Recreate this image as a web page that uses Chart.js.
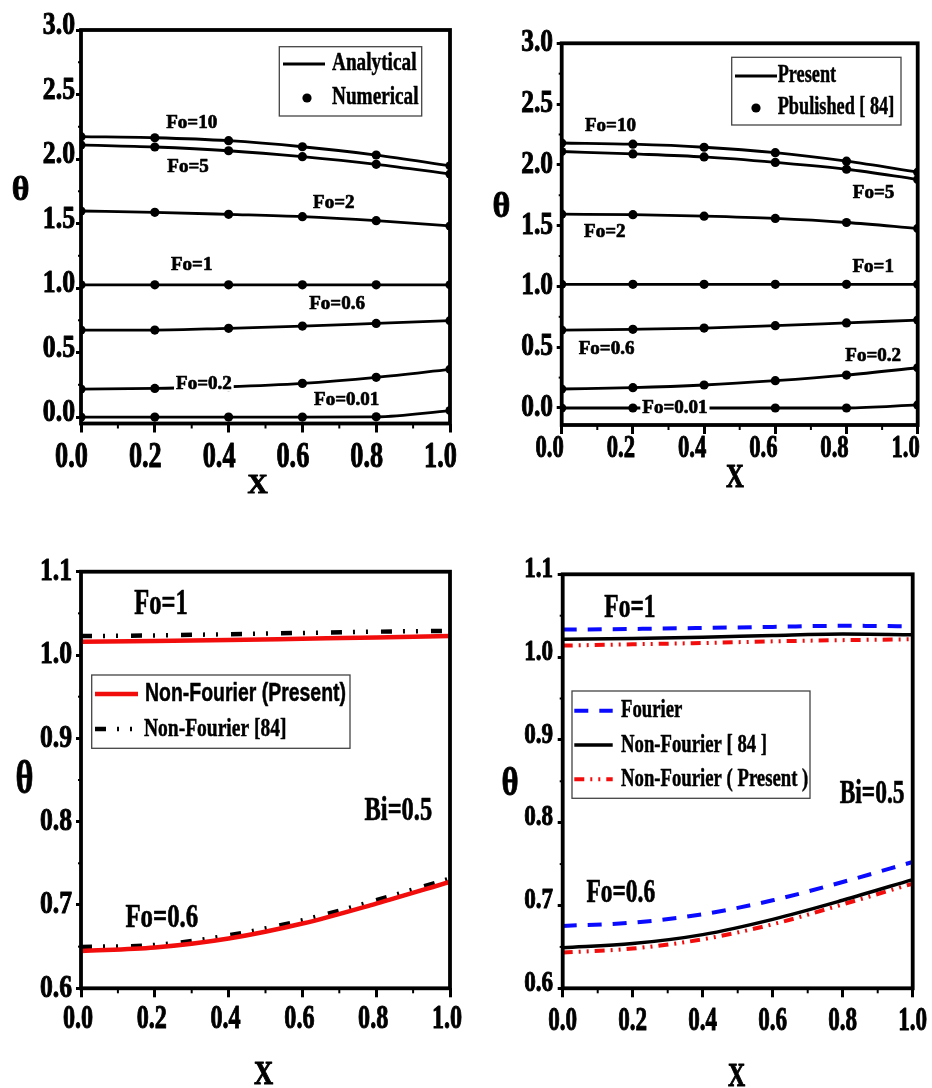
<!DOCTYPE html>
<html>
<head>
<meta charset="utf-8">
<script src="https://cdn.jsdelivr.net/npm/chart.js@4/dist/chart.umd.min.js"></script>
<style>
  html, body { margin: 0; padding: 0; background: #fff; }
  #wrap { position: relative; width: 932px; height: 1088px; background: #fff; overflow: hidden; }
  #wrap canvas { position: absolute; left: 0; top: 0; }
</style>
</head>
<body>
<div id="wrap">
  <canvas id="c1" width="932" height="1088"></canvas>
  <canvas id="c2" width="932" height="1088"></canvas>
  <canvas id="c3" width="932" height="1088"></canvas>
  <canvas id="c4" width="932" height="1088"></canvas>
</div>
<script>
// ---- axis ticks ----
const xNodes = [0, 0.2, 0.4, 0.6, 0.8, 1.0];
const xTicks = [0, 0.2, 0.4, 0.6, 0.8, 1.0];
const thetaTicksTop = [0, 0.5, 1.0, 1.5, 2.0, 2.5, 3.0];
const thetaTicksBottom = [0.6, 0.7, 0.8, 0.9, 1.0, 1.1];

// ---- (a) analytical vs numerical, theta at xNodes ----
const anaFo10  = [2.173, 2.165, 2.142, 2.095, 2.031, 1.948];
const anaFo5   = [2.109, 2.093, 2.064, 2.018, 1.959, 1.884];
const anaFo2   = [1.597, 1.587, 1.571, 1.553, 1.522, 1.481];
const anaFo1   = [1.025, 1.025, 1.025, 1.025, 1.025, 1.025];
const anaFo06  = [0.674, 0.674, 0.688, 0.705, 0.726, 0.747];
const anaFo02  = [0.217, 0.222, 0.235, 0.261, 0.308, 0.370];
const anaFo001 = [0.000, 0.000, 0.000, 0.000, 0.002, 0.050];

// ---- (b) present vs published [84] ----
const preFo10  = [2.180, 2.170, 2.145, 2.100, 2.030, 1.940];
const preFo5   = [2.110, 2.090, 2.065, 2.020, 1.964, 1.880];
const preFo2   = [1.594, 1.590, 1.578, 1.559, 1.526, 1.477];
const preFo1   = [1.017, 1.017, 1.017, 1.017, 1.017, 1.017];
const preFo06  = [0.641, 0.647, 0.657, 0.677, 0.700, 0.723];
const preFo02  = [0.156, 0.167, 0.189, 0.225, 0.271, 0.331];
const preFo001 = [0.000, 0.000, 0.000, 0.000, 0.000, 0.025];

// ---- (c) non-Fourier, Bi = 0.5 ----
const nfPresentFo1  = [1.0159, 1.0168, 1.0180, 1.0195, 1.0210, 1.0227];
const nfPresentFo06 = [0.6448, 0.6489, 0.6597, 0.6777, 0.7017, 0.7277];
const nfRef84Fo1    = [1.0227, 1.0235, 1.0250, 1.0265, 1.0280, 1.0290];
const nfRef84Fo06   = [0.6496, 0.6520, 0.6636, 0.6817, 0.7057, 0.7317];

// ---- (d) Fourier vs non-Fourier, Bi = 0.5 ----
const fourierFo1   = [1.0332, 1.0340, 1.0352, 1.0365, 1.0378, 1.0372];
const fourierFo06  = [0.6753, 0.6793, 0.6894, 0.7063, 0.7284, 0.7525];
const ref84Fo1     = [1.0215, 1.0225, 1.0240, 1.0262, 1.0279, 1.0270];
const ref84Fo06    = [0.6491, 0.6540, 0.6648, 0.6833, 0.7063, 0.7313];
const presentFo1   = [1.0139, 1.0155, 1.0170, 1.0190, 1.0205, 1.0215];
const presentFo06  = [0.6431, 0.6480, 0.6592, 0.6773, 0.7014, 0.7264];

const W = 932, H = 1088;
const SERIF = '"Liberation Serif", "Times New Roman", serif';
const SANS = '"Liberation Sans", Arial, sans-serif';

const pts = ys => xNodes.map((x, i) => ({ x, y: ys[i] }));

// bold text, squeezed horizontally by f.sx, with a thin outline to thicken the strokes
function drawText(ctx, str, x, y, f) {
  ctx.save();
  ctx.font = (f.weight || 'bold') + ' ' + f.size + 'px ' + (f.family || SERIF);
  ctx.textAlign = f.align || 'left';
  ctx.textBaseline = f.baseline || 'alphabetic';
  ctx.translate(x, y);
  ctx.scale(f.sx || 1, 1);
  if (f.bg) {
    const w = ctx.measureText(str).width;
    ctx.fillStyle = '#fff';
    ctx.fillRect(-w / 2 - 2, -f.size * 0.38, w + 4, f.size * 0.76);
  }
  ctx.fillStyle = '#000';
  ctx.fillText(str, 0, 0);
  ctx.strokeStyle = '#000';
  ctx.lineWidth = f.thick == null ? 0.7 : f.thick;
  ctx.lineJoin = 'round';
  ctx.setLineDash([]);
  if (ctx.lineWidth > 0) ctx.strokeText(str, 0, 0);
  ctx.restore();
}

function panelDeco(spec) {
  return {
    id: 'panelDeco',
    afterDraw(chart) {
      const ctx = chart.ctx, a = chart.chartArea;
      const xs = chart.scales.x, ys = chart.scales.y;
      ctx.save();
      ctx.strokeStyle = '#000';
      ctx.setLineDash([]);
      ctx.lineCap = 'butt';

      // minor ticks halfway between the major ones
      ctx.lineWidth = 2;
      const xt = xs.ticks.map(t => t.value);
      for (let i = 0; i < xt.length - 1; i++) {
        const px = xs.getPixelForValue((xt[i] + xt[i + 1]) / 2);
        ctx.beginPath(); ctx.moveTo(px, a.bottom); ctx.lineTo(px, a.bottom + 5); ctx.stroke();
      }
      const yt = ys.ticks.map(t => t.value);
      for (let i = 0; i < yt.length - 1; i++) {
        const py = ys.getPixelForValue((yt[i] + yt[i + 1]) / 2);
        ctx.beginPath(); ctx.moveTo(a.left, py); ctx.lineTo(a.left - 3, py); ctx.stroke();
      }

      // plot frame
      ctx.lineWidth = 3.8;
      ctx.lineJoin = 'miter';
      ctx.strokeRect(a.left, a.top, a.right - a.left, a.bottom - a.top);

      // tick labels
      const xl = spec.xLabel, yl = spec.yLabel;
      xs.ticks.forEach(t => drawText(ctx, t.value.toFixed(1), xs.getPixelForValue(t.value) + xl.dx, xl.base,
        { size: xl.size, sx: xl.sx, align: 'center', thick: 1 }));
      ys.ticks.forEach(t => drawText(ctx, t.value.toFixed(1), yl.right, ys.getPixelForValue(t.value) + yl.dy,
        { size: yl.size, sx: yl.sx, align: 'right', baseline: 'middle', thick: 1 }));

      // axis titles
      const xT = spec.xTitle, yT = spec.yTitle;
      drawText(ctx, 'X', xT.x, xT.base, { size: xT.size, sx: xT.sx, align: 'center', thick: 1 });
      drawText(ctx, '\u03b8', yT.x, yT.base, { size: yT.size, sx: yT.sx, align: 'center', thick: 0.8 });

      // curve annotations
      spec.notes.forEach(n => drawText(ctx, n.text, xs.getPixelForValue(n.x), ys.getPixelForValue(n.y),
        { size: n.size, sx: n.sx, align: 'center', baseline: 'middle', bg: n.bg }));

      // legend
      const lg = spec.legend, b = lg.box;
      ctx.setLineDash([]);
      ctx.lineWidth = 1.3;
      ctx.strokeStyle = '#444';
      ctx.strokeRect(b[0], b[1], b[2] - b[0], b[3] - b[1]);
      lg.items.forEach(it => {
        const d = chart.data.datasets[it.ds];
        ctx.save();
        if (d.showLine === false) {
          ctx.fillStyle = d.pointBackgroundColor;
          ctx.beginPath();
          ctx.arc((it.s1 + it.s2) / 2, it.y, d.pointRadius, 0, Math.PI * 2);
          ctx.fill();
        } else {
          ctx.strokeStyle = d.borderColor;
          ctx.lineWidth = d.borderWidth;
          ctx.lineCap = 'butt';
          ctx.setLineDash(d.borderDash || []);
          ctx.beginPath(); ctx.moveTo(it.s1, it.y); ctx.lineTo(it.s2, it.y); ctx.stroke();
        }
        ctx.restore();
        drawText(ctx, d.label, it.tx, it.y, { size: it.size, sx: it.sx, family: it.family, baseline: 'middle', thick: 0.5 });
      });
      ctx.restore();
    }
  };
}

function makeChart(id, datasets, spec) {
  const a = spec.area;
  return new Chart(document.getElementById(id), {
    type: 'scatter',
    data: { datasets },
    options: {
      responsive: false,
      animation: false,
      devicePixelRatio: 1,
      events: [],
      layout: { autoPadding: false, padding: { left: a.left, top: a.top, right: W - a.right, bottom: H - a.bottom } },
      plugins: { legend: { display: false }, tooltip: { enabled: false } },
      scales: {
        x: {
          type: 'linear', min: 0, max: 1,
          afterBuildTicks: s => { s.ticks = xTicks.map(v => ({ value: v })); },
          afterFit: s => { s.height = 0; },
          ticks: { display: false },
          grid: { drawOnChartArea: false, drawTicks: true, tickLength: 9, tickWidth: 3, tickColor: '#000' },
          border: { display: false }
        },
        y: {
          type: 'linear', min: spec.yMin, max: spec.yMax,
          afterBuildTicks: s => { s.ticks = spec.yTicks.map(v => ({ value: v })); },
          afterFit: s => { s.width = 0; },
          ticks: { display: false },
          grid: { drawOnChartArea: false, drawTicks: true, tickLength: 5, tickWidth: 3, tickColor: '#000' },
          border: { display: false }
        }
      }
    },
    plugins: [panelDeco(spec)]
  });
}

function lineSet(label, ys, color, width, dash) {
  return {
    label, data: pts(ys), showLine: true, pointRadius: 0, borderColor: color, backgroundColor: color,
    borderWidth: width, borderDash: dash || [], cubicInterpolationMode: 'monotone', clip: 0
  };
}
function dotSet(label, ys) {
  return {
    label, data: pts(ys), showLine: false, pointRadius: 4.6, pointBorderWidth: 0,
    pointBackgroundColor: '#000', backgroundColor: '#000', borderColor: '#000', clip: 0
  };
}
function pairSets(lineLabel, dotLabel, curves) {
  const out = [];
  curves.forEach(c => { out.push(lineSet(lineLabel, c, '#000', 2.8)); out.push(dotSet(dotLabel, c)); });
  return out;
}

// (a)
makeChart('c1',
  pairSets('Analytical', 'Numerical', [anaFo10, anaFo5, anaFo2, anaFo1, anaFo06, anaFo02, anaFo001]),
  {
    area: { left: 81, right: 450, top: 30, bottom: 423.5 },
    yMin: -0.05, yMax: 3.0, yTicks: thetaTicksTop,
    xLabel: { size: 35, sx: 0.75, base: 467, dx: -9.5 },
    yLabel: { size: 31, sx: 0.83, right: 75, dy: -4 },
    xTitle: { x: 257.5, base: 493, size: 28, sx: 1 },
    yTitle: { x: 20.5, base: 200, size: 34, sx: 1 },
    notes: [
      { text: 'Fo=10', x: 0.30, y: 2.279, size: 19, sx: 1 },
      { text: 'Fo=5', x: 0.29, y: 1.938, size: 19, sx: 1 },
      { text: 'Fo=2', x: 0.685, y: 1.655, size: 19, sx: 1 },
      { text: 'Fo=1', x: 0.30, y: 1.179, size: 19, sx: 1 },
      { text: 'Fo=0.6', x: 0.694, y: 0.872, size: 19, sx: 1 },
      { text: 'Fo=0.2', x: 0.333, y: 0.256, size: 19, sx: 1, bg: true },
      { text: 'Fo=0.01', x: 0.72, y: 0.128, size: 19, sx: 1 }
    ],
    legend: {
      box: [279.3, 46.7, 421.7, 116],
      items: [
        { ds: 0, y: 64, s1: 283, s2: 325, tx: 332, size: 25, sx: 0.77 },
        { ds: 1, y: 98, s1: 303, s2: 311, tx: 332, size: 25, sx: 0.77 }
      ]
    }
  });

// (b)
makeChart('c2',
  pairSets('Present', 'Pbulished [ 84]', [preFo10, preFo5, preFo2, preFo1, preFo06, preFo02, preFo001]),
  {
    area: { left: 561.7, right: 917.7, top: 43.3, bottom: 425 },
    yMin: -0.14, yMax: 3.0, yTicks: thetaTicksTop,
    xLabel: { size: 31, sx: 0.73, base: 457, dx: -12 },
    yLabel: { size: 31, sx: 0.82, right: 553, dy: 0 },
    xTitle: { x: 735, base: 487, size: 33, sx: 0.75 },
    yTitle: { x: 501.5, base: 217, size: 36, sx: 0.95 },
    notes: [
      { text: 'Fo=10', x: 0.137, y: 2.32, size: 19, sx: 1 },
      { text: 'Fo=5', x: 0.876, y: 1.766, size: 19, sx: 1 },
      { text: 'Fo=2', x: 0.121, y: 1.450, size: 19, sx: 1 },
      { text: 'Fo=1', x: 0.875, y: 1.156, size: 19, sx: 1 },
      { text: 'Fo=0.6', x: 0.126, y: 0.481, size: 19, sx: 1 },
      { text: 'Fo=0.2', x: 0.875, y: 0.428, size: 19, sx: 1 },
      { text: 'Fo=0.01', x: 0.318, y: 0.0, size: 19, sx: 1, bg: true }
    ],
    legend: {
      box: [731.7, 57.3, 901, 125],
      items: [
        { ds: 0, y: 76, s1: 735, s2: 777, tx: 777.7, size: 25, sx: 0.73 },
        { ds: 1, y: 108, s1: 752, s2: 760, tx: 777.7, size: 25, sx: 0.73 }
      ]
    }
  });

// (c)
const RED = '#f20d0d', BLUE = '#0a0aff';
const dashDotDot = [11, 11, 2, 11, 2, 13];
makeChart('c3', [
    lineSet('Non-Fourier (Present)', nfPresentFo1, RED, 4.5),
    lineSet('Non-Fourier (Present)', nfPresentFo06, RED, 4.5),
    lineSet('Non-Fourier [84]', nfRef84Fo1, '#000', 4.5, dashDotDot),
    lineSet('Non-Fourier [84]', nfRef84Fo06, '#000', 4.5, dashDotDot)
  ],
  {
    area: { left: 81, right: 450, top: 571.7, bottom: 988.3 },
    yMin: 0.6, yMax: 1.1, yTicks: thetaTicksBottom,
    xLabel: { size: 34, sx: 0.71, base: 1028, dx: -3 },
    yLabel: { size: 32.5, sx: 0.79, right: 72, dy: 0 },
    xTitle: { x: 263.5, base: 1084, size: 34, sx: 0.78 },
    yTitle: { x: 24.5, base: 793, size: 46, sx: 0.75 },
    notes: [
      { text: 'Fo=1', x: 0.217, y: 1.060, size: 35, sx: 0.70 },
      { text: 'Fo=0.6', x: 0.219, y: 0.684, size: 34, sx: 0.73 },
      { text: 'Bi=0.5', x: 0.860, y: 0.812, size: 34, sx: 0.72 }
    ],
    legend: {
      box: [91.7, 675, 350, 748.3],
      items: [
        { ds: 0, y: 694, s1: 95, s2: 138, tx: 145, size: 25.6, sx: 0.76, family: SANS },
        { ds: 2, y: 729, s1: 95, s2: 135, tx: 144, size: 26, sx: 0.75 }
      ]
    }
  });

// (d)
const redDash = [10, 6, 2, 6, 2, 6];
makeChart('c4', [
    lineSet('Fourier', fourierFo1, BLUE, 4, [14, 11]),
    lineSet('Fourier', fourierFo06, BLUE, 4, [14, 11]),
    lineSet('Non-Fourier [ 84 ]', ref84Fo1, '#000', 3.5),
    lineSet('Non-Fourier [ 84 ]', ref84Fo06, '#000', 3.5),
    lineSet('Non-Fourier ( Present )', presentFo1, RED, 4, redDash),
    lineSet('Non-Fourier ( Present )', presentFo06, RED, 4, redDash)
  ],
  {
    area: { left: 562.7, right: 912.7, top: 574.3, bottom: 988.3 },
    yMin: 0.6, yMax: 1.1, yTicks: thetaTicksBottom,
    xLabel: { size: 34, sx: 0.68, base: 1030, dx: 0 },
    yLabel: { size: 29.6, sx: 0.78, right: 553, dy: -5 },
    xTitle: { x: 736.5, base: 1086, size: 34, sx: 0.7 },
    yTitle: { x: 510, base: 795, size: 41, sx: 0.8 },
    notes: [
      { text: 'Fo=1', x: 0.192, y: 1.0595, size: 34, sx: 0.69 },
      { text: 'Fo=0.6', x: 0.166, y: 0.714, size: 33, sx: 0.71 },
      { text: 'Bi=0.5', x: 0.884, y: 0.834, size: 34, sx: 0.69 }
    ],
    legend: {
      box: [572, 691, 810, 798.3],
      items: [
        { ds: 0, y: 710.7, s1: 574.3, s2: 612.7, tx: 621, size: 26, sx: 0.72 },
        { ds: 2, y: 745, s1: 574.3, s2: 612.7, tx: 621, size: 26, sx: 0.72 },
        { ds: 4, y: 779.3, s1: 574.3, s2: 612.7, tx: 621, size: 26, sx: 0.72 }
      ]
    }
  });
</script>
</body>
</html>
